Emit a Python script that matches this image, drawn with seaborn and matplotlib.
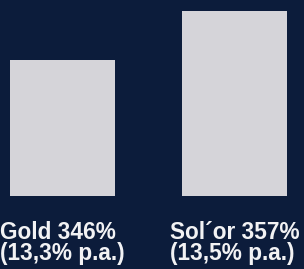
import matplotlib
matplotlib.use("Agg")
import matplotlib.pyplot as plt
import seaborn as sns
import pandas as pd

# values
fonds = ["Gold", "Sol´or"]
total = [346, 357]
pro_jahr = ["13,3%", "13,5%"]
labels = [f"{f} {t}%\n({p} p.a.)" for f, t, p in zip(fonds, total, pro_jahr)]

bg = "#0c1c3b"
bar_col = "#d5d4d9"
txt_col = "#f2f2f4"

sns.set_style("white")
plt.rcParams['font.family'] = ['Liberation Sans', 'DejaVu Sans']

df = pd.DataFrame({"fonds": fonds, "total": total})

fig = plt.figure(figsize=(3.04, 2.69), dpi=100, facecolor=bg)
ax = fig.add_axes([0, 0.2714, 1, 0.7286])
ax.set_facecolor(bg)

sns.barplot(data=df, x="fonds", y="total", color=bar_col, width=0.61,
            saturation=1, linewidth=0, ax=ax)

ax.set_ylim(315.5, 359.5)
ax.set_xlim(-0.363, 1.404)
ax.set_xlabel("")
ax.set_ylabel("")
ax.set_yticks([])
ax.set_xticks([0, 1])
ax.set_xticklabels(labels, fontsize=16.3, fontweight="bold", color=txt_col,
                   multialignment="left", linespacing=0.9)
ax.tick_params(axis="x", length=0, pad=18)
sns.despine(ax=ax, left=True, bottom=True)

fig.savefig("out.png", dpi=100, facecolor=bg)
